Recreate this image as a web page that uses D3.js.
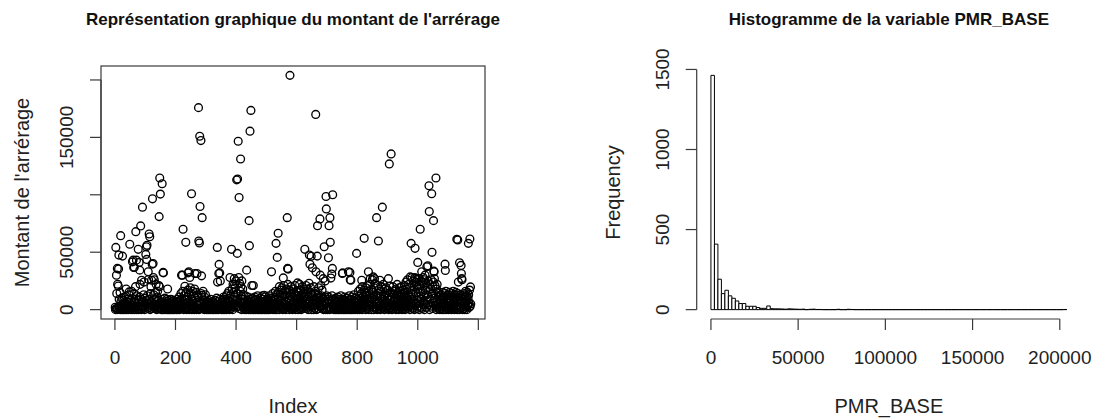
<!DOCTYPE html>
<html><head><meta charset="utf-8">
<script src="https://cdn.jsdelivr.net/npm/d3@7"></script>
<style>
html,body{margin:0;padding:0;background:#fff;}
svg{display:block;font-family:"Liberation Sans",Arial,sans-serif;}
</style></head>
<body>
<svg id="c" width="1096" height="418"></svg>
<script>
// ---------- Left panel: montant de l'arrérage (thousands) by index ----------
const baseMontantK = [
2,0,5,1,8,3,0,12,4,1,6,0,2,9,1,3,15,0,4,7,1,2,10,0,3,
5,1,0,8,2,11,4,0,1,6,3,18,2,0,7,1,4,9,0,2,13,5,1,0,3,
8,2,0,4,16,1,6,3,0,10,2,5,14,1,0,7,3,20,2,9,4,0,12,6,1,
3,17,0,8,2,11,5,22,1,4,9,0,15,6,2,19,3,7,1,13,24,4,0,10,5,
2,16,8,0,21,3,12,6,1,18,4,9,25,2,7,0,14,5,20,3,11,1,8,17,4,
6,0,13,2,19,5,9,1,15,3,22,7,0,11,4,16,2,8,1,12,5,20,0,6,3,
1,7,0,4,9,2,0,5,1,8,3,0,6,2,10,1,4,0,7,3,1,9,0,2,5,
0,3,8,1,0,6,2,4,0,9,1,3,7,0,2,5,1,0,8,3,1,6,0,4,2,
1,5,0,7,3,9,1,0,4,6,2,11,0,3,8,1,5,14,2,0,9,4,1,16,3,
7,0,12,5,2,18,1,9,4,15,0,6,3,11,1,17,8,2,13,0,5,10,3,19,1,
6,14,2,0,9,4,16,1,7,12,3,0,18,5,1,10,2,15,6,0,8,13,4,1,11,
3,17,0,7,2,12,5,1,9,14,0,4,10,2,6,16,1,8,3,0,11,5,2,13,1,
4,0,7,2,1,5,0,3,8,1,0,6,2,4,1,9,0,3,5,1,2,7,0,4,1,
0,6,2,1,8,3,0,5,1,2,10,0,4,1,7,2,0,3,6,1,0,9,2,4,1,
3,0,6,1,8,2,0,5,11,1,3,7,0,2,9,4,1,12,0,6,3,14,1,8,2,
16,4,0,10,20,2,7,13,1,24,5,18,9,0,22,3,15,6,27,1,11,19,4,25,8,
2,21,14,0,26,6,17,3,28,10,1,23,7,16,4,20,12,0,25,9,5,18,2,13,6,
1,9,3,0,7,12,2,5,0,10,4,1,8,3,11,0,6,2,13,4,1,9,0,5,2,
7,1,0,4,10,2,6,0,3,8,1,11,0,5,2,9,1,4,0,7,12,2,3,0,6,
1,8,3,0,5,10,2,0,7,1,4,12,0,3,9,1,6,2,0,11,4,1,8,0,3,
5,0,2,9,1,4,0,7,3,12,1,0,6,2,10,4,0,8,1,3,14,0,5,2,9,
1,11,4,0,16,2,7,13,0,5,18,3,9,1,15,6,0,20,4,11,2,8,17,1,12,
3,19,6,0,14,9,2,21,5,11,1,16,7,0,13,4,18,2,10,6,22,1,15,3,8,
0,17,5,12,2,20,9,1,14,4,0,11,18,6,2,15,8,1,21,3,10,0,13,5,16,
2,9,19,4,0,12,7,15,1,22,5,10,3,17,0,8,13,2,20,6,1,14,4,11,18,
7,0,16,3,12,21,1,9,5,18,2,14,0,11,6,23,4,8,1,15,19,3,10,0,13,
5,17,2,12,8,0,20,4,14,1,9,16,3,22,6,0,11,18,2,7,13,1,19,5,10,
3,15,0,8,21,2,12,6,17,1,10,4,14,0,9,2,7,11,1,5,0,8,3,12,1,
6,0,9,2,4,11,1,7,0,3,10,2,5,1,8,0,12,3,6,1,4,9,0,2,7,
1,5,0,10,3,8,1,0,6,2,11,4,0,7,1,3,9,0,5,2,12,1,4,0,8,
2,6,1,0,9,3,5,0,11,1,4,7,0,2,10,1,6,3,0,8,2,5,1,12,0,
4,1,9,2,0,6,3,11,1,5,0,8,2,13,4,1,7,0,10,3,6,1,14,2,0,
9,4,1,16,2,7,12,0,5,18,3,10,1,14,6,0,20,8,2,11,4,17,1,9,15,
3,12,0,19,6,2,14,9,1,21,5,11,0,16,3,8,22,1,13,4,18,7,0,10,20,
2,15,6,11,0,19,4,9,23,1,13,7,2,17,5,0,12,21,3,8,14,1,18,6,10,
0,16,4,12,20,2,9,15,1,7,22,3,11,5,0,18,8,13,2,19,6,1,14,4,10,
17,3,8,0,12,21,5,1,15,9,2,19,6,11,0,14,4,20,7,1,13,3,16,8,2,
10,18,0,5,13,1,22,7,3,15,9,0,12,19,4,2,16,8,1,11,20,5,0,14,6,
3,17,9,1,12,21,4,0,15,7,24,2,10,18,5,26,1,13,8,22,3,19,11,0,27,
6,14,23,2,9,29,4,17,1,25,12,7,20,0,28,10,3,24,15,5,21,1,26,8,13,
18,3,27,11,0,22,6,29,14,2,25,9,19,1,24,16,4,28,7,12,21,0,26,10,17,
5,23,13,2,28,8,19,1,25,11,4,27,15,0,22,9,18,3,26,12,6,29,14,1,20,
24,7,16,2,27,10,21,4,13,25,0,18,8,22,3,15,1,11,6,14,2,9,0,12,5,
1,8,13,3,0,10,5,15,2,7,0,11,4,14,1,9,3,16,0,6,12,2,8,1,13,
4,0,10,6,15,2,9,1,12,3,7,0,14,5,11,2,16,1,8,4,0,13,6,10,3,
15,1,7,12,0,9,3,14,5,2,11,0,16,6,8,1,13,4,10,2,15,7,0,12,3,
9,1,14,5,0,11,3,16,7,2,12,0,8,15,4,10,1,13,6,2,17,9,3,11,5
];
// Larger values read individually (index, thousands)
const outlierIndex = [3,5,6,8,9,11,12,13,19,25,47,49,58,60,62,64,69,71,77,80,82,85,88,91,102,104,105,106,110,111,113,115,121,123,124,126,127,130,145,146,148,150,156,159,160,174,
220,223,225,231,234,242,244,247,253,264,271,276,277,279,280,281,284,286,287,288,
338,339,343,344,346,348,
380,385,395,402,404,405,407,410,415,435,443,444,446,449,452,457,493,
517,532,536,539,556,569,570,572,578,603,
627,642,644,648,652,663,664,668,669,677,678,688,691,694,697,698,705,707,710,711,713,716,718,719,751,752,771,776,777,779,
798,815,823,837,843,850,853,857,864,870,875,883,903,906,907,912,
975,978,981,991,992,1000,1008,1013,1024,1030,1033,1037,1038,1046,1047,1052,1053,1054,1060,
1090,1091,1129,1132,1134,1138,1143,1144,1145,1146,1167,1172,1174];
const outlierValueK = [54.2,30,14,35.9,22.1,20.5,35.3,47.5,64.4,46.6,15.4,56.9,41.6,43.1,36.7,37,67.9,43.1,52.5,41.1,34.4,72.9,25.6,89.2,48.1,54.8,43.7,56,32.9,26.2,65.9,63.5,25.6,39.6,96.5,40.2,28,26,21,81,114.6,100.6,109.6,32.4,32,18,
30,30,70,20.4,58.6,32,32.9,28,100.9,31.5,31.5,175.9,59.8,58,151,89.8,147.2,29.4,12.5,80.1,
54.2,24,31.5,39.4,32,25,
28,52.5,22,113,49,113.7,146.6,97.6,131.2,34.4,77.5,55.7,155.4,173.5,21,21,12.5,
32.9,57.7,45.5,66.5,27.6,80.1,35.9,35.3,204,23.3,
52.5,47.5,39.6,46.5,36.4,170,32.9,46.6,73.1,79,30,27,54.8,25,98.5,87.7,45.1,73.1,80.1,58.6,27.5,31,35.9,100,31.5,32,32.9,32.4,26,25.6,
49,25.6,62.1,32.9,27,26,28.5,27,80.1,59.8,25.6,89.2,27,126.9,20.4,135.6,
28.5,57.7,28,53.4,27,41.1,70,32.9,30,37.3,38.2,107.9,85.4,100.9,49.9,77.5,33.5,32.9,114.6,
39.6,34.1,61.2,60.6,24,40.8,38.5,31.5,27,26,57.7,61.5,19.8];

// ---------- Right panel: histogram of PMR_BASE ----------
const histBinWidth = 2000;
const histCounts = [1463,409,190,100,121,86,71,54,38,38,21,21,21,13,8,8,23,6,5,5,4,3,5,4,3,2,3,0,2,3,1,1,0,0,0,0,2,0,0,2,1,
0,0,0,0,0,0,0,0,0,0,0,0,0,0,0,0,0,0,0,0,0,0,0,0,0,0,0,0,0,0,0,0,0,0,0,0,0,0,0,0,0,0,0,0,0,0,0,0,0,0,0,0,0,0,0,0,0,0,0,0,1];

const leftYTicks = [0,50000,100000,150000,200000];
const leftYLabels = ["0","50000","","150000",""];
const leftXTicks = [0,200,400,600,800,1000,1200];
const leftXLabels = ["0","200","400","600","800","1000",""];
const rightYTicks = [0,500,1000,1500];
const rightXTicks = [0,50000,100000,150000,200000];

// build data
const montant = baseMontantK.map(v => v*1000);
outlierIndex.forEach((idx,k) => { montant[idx-1] = outlierValueK[k]*1000; });
const points = montant.map((v,i)=>({i:i+1,v}));

const svg = d3.select("#c");
const ink = "#000";
const axisCol = "#3a3a3a";
const TICKF = 19, LABF = 20, TITF = 17;

// ===== Left scatter =====
const L = {x0:101, x1:485, y0:66, y1:319};
const n = montant.length;
const xL = d3.scaleLinear().domain([1-0.04*(n-1), n+0.04*(n-1)]).range([L.x0,L.x1]);
const vmin = d3.min(montant), vmax = d3.max(montant), vr = vmax-vmin;
const yL = d3.scaleLinear().domain([vmin-0.04*vr, vmax+0.04*vr]).range([L.y1,L.y0]);

const gL = svg.append("g");
gL.append("g").selectAll("circle").data(points).join("circle")
  .attr("cx",d=>xL(d.i)).attr("cy",d=>yL(d.v)).attr("r",3.9)
  .attr("fill","none").attr("stroke",ink).attr("stroke-width",1.35);
gL.append("rect").attr("x",L.x0).attr("y",L.y0).attr("width",L.x1-L.x0).attr("height",L.y1-L.y0)
  .attr("fill","none").attr("stroke",axisCol).attr("stroke-width",1.2);

// left x axis
gL.append("line").attr("x1",xL(leftXTicks[0])).attr("x2",xL(leftXTicks[leftXTicks.length-1]))
  .attr("y1",L.y1).attr("y2",L.y1).attr("stroke",axisCol).attr("stroke-width",1.2);
leftXTicks.forEach((t,k)=>{
  gL.append("line").attr("x1",xL(t)).attr("x2",xL(t)).attr("y1",L.y1).attr("y2",L.y1+11).attr("stroke",axisCol).attr("stroke-width",1.2);
  if(leftXLabels[k]) gL.append("text").attr("x",xL(t)).attr("y",364).attr("text-anchor","middle")
    .attr("font-size",TICKF).attr("fill","#222").text(leftXLabels[k]);
});
// left y axis
gL.append("line").attr("x1",L.x0).attr("x2",L.x0).attr("y1",yL(leftYTicks[0])).attr("y2",yL(leftYTicks[leftYTicks.length-1]))
  .attr("stroke",axisCol).attr("stroke-width",1.2);
leftYTicks.forEach((t,k)=>{
  gL.append("line").attr("x1",L.x0-11).attr("x2",L.x0).attr("y1",yL(t)).attr("y2",yL(t)).attr("stroke",axisCol).attr("stroke-width",1.2);
  if(leftYLabels[k]) gL.append("text").attr("transform",`translate(72.5,${yL(t)}) rotate(-90)`)
    .attr("text-anchor","middle").attr("font-size",TICKF).attr("fill","#222").text(leftYLabels[k]);
});
gL.append("text").attr("x",(L.x0+L.x1)/2).attr("y",25).attr("text-anchor","middle")
  .attr("font-size",TITF).attr("font-weight","bold").attr("fill","#111").text("Représentation graphique du montant de l'arrérage");
gL.append("text").attr("x",(L.x0+L.x1)/2).attr("y",413).attr("text-anchor","middle")
  .attr("font-size",LABF).attr("fill","#222").text("Index");
gL.append("text").attr("transform",`translate(28.5,${(L.y0+L.y1)/2}) rotate(-90)`).attr("text-anchor","middle")
  .attr("font-size",LABF).attr("fill","#222").text("Montant de l'arrérage");

// ===== Right histogram =====
const R = {x0:696.7, x1:1081, y0:66, y1:319};
const nb = histCounts.length;
const bins = histCounts.map((c,k)=>({b0:k*histBinWidth, b1:(k+1)*histBinWidth, c}));
const bmax = nb*histBinWidth;
const cmax = d3.max(histCounts);
const xR = d3.scaleLinear().domain([-0.04*bmax, bmax*1.04]).range([R.x0,R.x1]);
const yR = d3.scaleLinear().domain([-0.04*cmax, cmax*1.04]).range([R.y1,R.y0]);
const gR = svg.append("g");
// bars drawn as closed paths so that empty bins still show their bottom edge (as R does)
gR.append("g").selectAll("path").data(bins).join("path")
  .attr("d",d=>{const a=xR(d.b0), b=xR(d.b1), y0=yR(0), y1=yR(d.c);
    return `M${a},${y0}L${a},${y1}L${b},${y1}L${b},${y0}Z`;})
  .attr("fill","#fff").attr("stroke",ink).attr("stroke-width",1);
// x axis
gR.append("line").attr("x1",xR(rightXTicks[0])).attr("x2",xR(rightXTicks[rightXTicks.length-1]))
  .attr("y1",R.y1).attr("y2",R.y1).attr("stroke",axisCol).attr("stroke-width",1.2);
rightXTicks.forEach(t=>{
  gR.append("line").attr("x1",xR(t)).attr("x2",xR(t)).attr("y1",R.y1).attr("y2",R.y1+11).attr("stroke",axisCol).attr("stroke-width",1.2);
  gR.append("text").attr("x",xR(t)).attr("y",364).attr("text-anchor","middle")
    .attr("font-size",TICKF).attr("fill","#222").text(String(t));
});
// y axis
gR.append("line").attr("x1",R.x0).attr("x2",R.x0).attr("y1",yR(rightYTicks[0])).attr("y2",yR(rightYTicks[rightYTicks.length-1]))
  .attr("stroke",axisCol).attr("stroke-width",1.2);
rightYTicks.forEach(t=>{
  gR.append("line").attr("x1",R.x0-11).attr("x2",R.x0).attr("y1",yR(t)).attr("y2",yR(t)).attr("stroke",axisCol).attr("stroke-width",1.2);
  gR.append("text").attr("transform",`translate(669,${yR(t)}) rotate(-90)`)
    .attr("text-anchor","middle").attr("font-size",TICKF).attr("fill","#222").text(String(t));
});
gR.append("text").attr("x",(R.x0+R.x1)/2).attr("y",25).attr("text-anchor","middle")
  .attr("font-size",TITF).attr("font-weight","bold").attr("fill","#111").text("Histogramme de la variable PMR_BASE");
gR.append("text").attr("x",(R.x0+R.x1)/2).attr("y",413).attr("text-anchor","middle")
  .attr("font-size",LABF).attr("fill","#222").text("PMR_BASE");
gR.append("text").attr("transform",`translate(619.5,${(R.y0+R.y1)/2}) rotate(-90)`).attr("text-anchor","middle")
  .attr("font-size",LABF).attr("fill","#222").text("Frequency");
</script>
</body></html>
